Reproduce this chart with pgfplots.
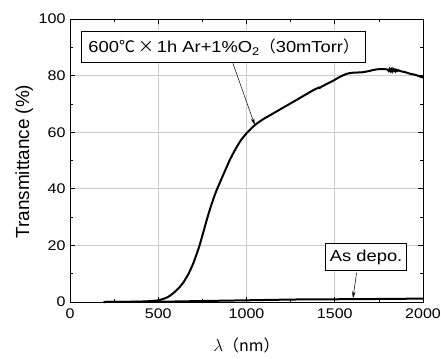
\documentclass[border=0pt]{standalone}
\usepackage{fontspec}
\setmainfont{Liberation Sans}[FakeStretch=1.15]
\newfontfamily\cjk{Noto Sans CJK JP}[FakeStretch=1.0]
\newfontfamily\plainsans{Liberation Sans}
\usepackage{pgfplots}
\pgfplotsset{compat=1.18}
\usetikzlibrary{arrows.meta}
\pgfplotstableread{
x y
190 0
300 0.05
400 0.15
450 0.3
500 0.6
550 1.6
585 3.1
620 5.2
641 6.8
670 9.8
698 13.6
720 17.4
736 20.4
755 24.6
773 28.6
790 32.2
811 36.2
830 39.4
849 42.2
870 45.2
887 47.6
910 50.8
943 54.6
970 57.3
1000 59.6
1030 61.5
1057 63
1100 64.8
1150 66.6
1189 68
1250 70.2
1300 72
1377 74.8
1400 75.5
1410 75.8
1415 75.6
1420 75.9
1450 76.9
1494 78.3
1530 79.6
1566 80.6
1600 81
1660 81.2
1700 81.7
1736 82.2
1780 82.3
1800 82.1
1805 81.7
1810 82.3
1815 81.6
1820 82.2
1825 81.5
1830 82.3
1835 81.7
1840 82.1
1845 81.5
1850 82.0
1855 81.7
1860 81.9
1870 81.6
1900 81.2
1924 80.7
1960 80.2
1990 79.5
2000 79.4
}\annealed
\pgfplotstableread{
x y
190 0
500 0.1
800 0.4
1000 0.6
1300 0.9
1600 1.0
2000 1.2
}\asdepo
\begin{document}
\begin{tikzpicture}[x=1bp,y=1bp]
\useasboundingbox (0,0) rectangle (441,358);
\begin{axis}[
  at={(70bp,56bp)}, anchor=south west,
  scale only axis, width=353bp, height=283bp,
  xmin=0, xmax=2000, ymin=0, ymax=100,
  xtick={0,500,1000,1500,2000},
  ytick={0,20,40,60,80,100},
  minor x tick num=1, minor y tick num=1,
  tick align=inside, tick pos=both,
  major tick length=5bp, minor tick length=3bp,
  grid=major, major grid style={draw=black!20, line width=0.8bp},
  axis line style={line width=0.9bp},
  every tick/.style={black, line width=0.7bp},
  ticklabel style={font=\fontsize{14}{16}\selectfont},
  /pgf/number format/assume math mode=true,
  scaled ticks=false,
  /pgf/number format/set thousands separator={},
  xticklabel style={yshift=-3bp},
  yticklabel style={xshift=-1bp},
  xlabel={$\lambda$\cjk（nm）},
  ylabel={\plainsans Transmittance (\%)},
  xlabel style={font=\fontsize{16}{18}\selectfont, at={(axis description cs:0.5,-0.152)}, anchor=center},
  ylabel style={font=\fontsize{19}{21}\selectfont, at={(axis description cs:-0.13,0.496)}, anchor=center, rotate=0},
  clip=false,
]
\addplot[black, line width=2bp, no markers, smooth, tension=0.4] table[x=x,y=y]{\annealed};
\addplot[black, line width=2bp, no markers, smooth] table[x=x,y=y]{\asdepo};
\node[draw=black, line width=0.8bp, fill=white, inner sep=2bp, minimum width=284bp, minimum height=31bp, font=\fontsize{16}{18}\selectfont] at (axis cs:871,90) {600{\cjk ℃}\hspace{3bp}{\cjk ×}\hspace{3bp}1h Ar+1\%O\textsubscript{2}{\cjk （}30mTorr{\cjk ）}};
\draw[-{Stealth[length=7bp,width=3.5bp]}, line width=0.5bp] (axis cs:922,84.5) -- (axis cs:1047,62.5);
\node[draw=black, line width=0.8bp, fill=white, inner sep=2bp, minimum width=81bp, minimum height=27bp, font=\fontsize{16}{18}\selectfont] at (axis cs:1678,15.8) {As depo.};
\draw[-{Stealth[length=7bp,width=3.5bp]}, line width=0.5bp] (axis cs:1624,10.4) -- (axis cs:1603,1.3);
\end{axis}
\end{tikzpicture}
\end{document}
